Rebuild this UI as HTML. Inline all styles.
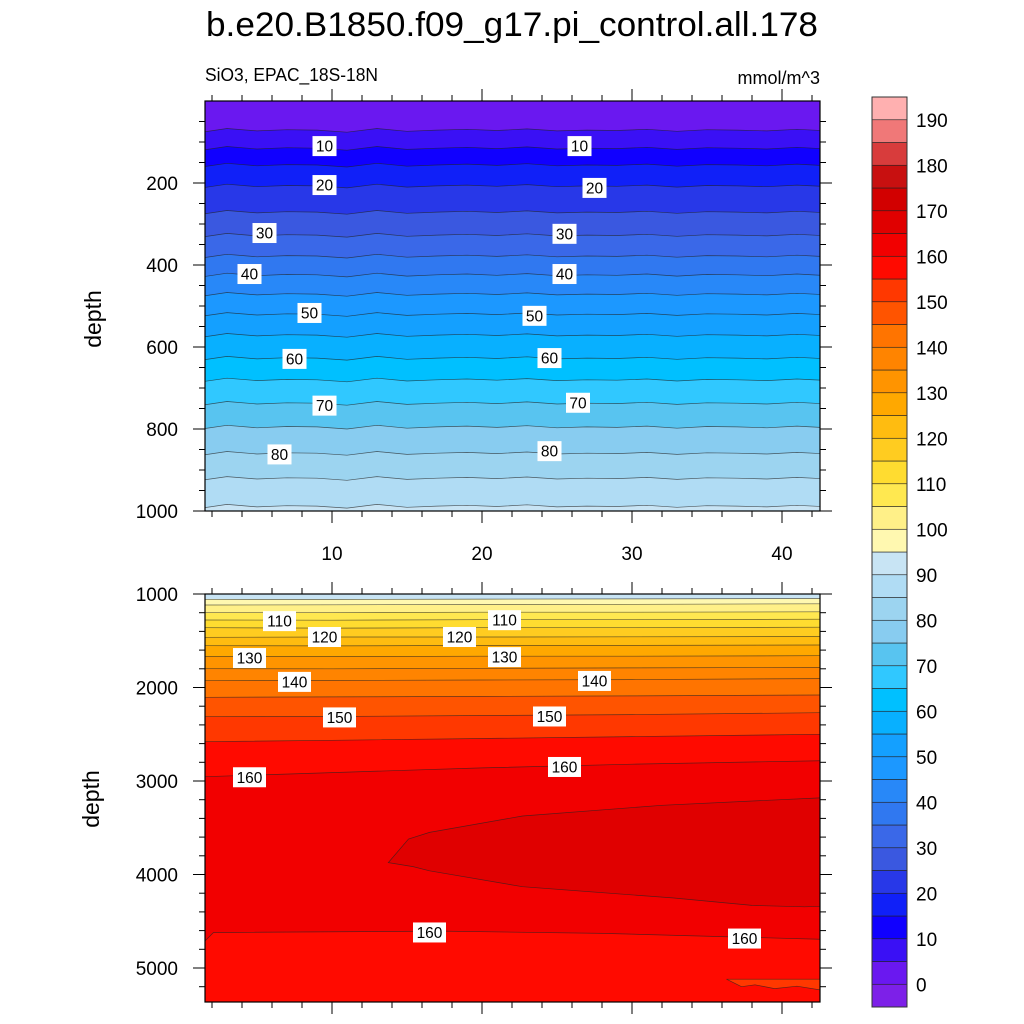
<!DOCTYPE html>
<html><head><meta charset="utf-8"><style>
html,body{margin:0;padding:0;background:#fff;overflow:hidden;width:1024px;height:1024px}
svg{display:block;font-family:"Liberation Sans",sans-serif}
</style></head><body>
<svg id="chart" width="1024" height="1024" viewBox="0 0 1024 1024">
<defs>
<clipPath id="clipTop"><rect x="205" y="101" width="615" height="410"/></clipPath>
<clipPath id="clipBot"><rect x="205" y="594" width="615" height="408"/></clipPath>
</defs>
<text x="512" y="36" font-size="34" text-anchor="middle" textLength="612" lengthAdjust="spacingAndGlyphs">b.e20.B1850.f09_g17.pi_control.all.178</text>
<text x="205" y="81" font-size="18" textLength="173" lengthAdjust="spacingAndGlyphs">SiO3, EPAC_18S-18N</text>
<text x="820" y="84" font-size="18" text-anchor="end">mmol/m^3</text>
<g id="topFill" clip-path="url(#clipTop)"></g>
<g id="botFill" clip-path="url(#clipBot)"></g>
<g id="axes"></g>
<g id="labels"></g>
<g id="cbar"></g>
<text transform="translate(101,319) rotate(-90)" font-size="23" text-anchor="middle">depth</text>
<text transform="translate(99,799) rotate(-90)" font-size="23" text-anchor="middle">depth</text>
</svg>
<script>
const colors=["#7d20e8","#6a18f0","#3a10f5","#1000ff","#1020f8","#2838e8","#3a58e0","#3a68e8","#3078f0","#2888f8","#1c98ff","#14a0ff","#08b0ff","#00c0ff","#30c8ff","#58c4f0","#88ccf0","#9cd4f0","#b0dcf4","#c8e4f4","#fff8b0","#fff088","#ffe850","#ffdc30","#ffcc20","#ffbc10","#ffa800","#ff9400","#ff8400","#ff7400","#ff5400","#ff3800","#ff0a00","#f20000","#e00000","#d20000","#c81010","#d83c3c","#f07878","#ffb0b0"];
const cbarLabels=[0,10,20,30,40,50,60,70,80,90,100,110,120,130,140,150,160,170,180,190];
const levelsTop=[5,10,15,20,25,30,35,40,45,50,55,60,65,70,75,80,85,90];
const depthTop=[71,115,156,207,271,327,378,424,471,520,571,627,680,737,795,859,920,988];
const xWiggle=[1.5,3,5,7,9,11,13,15,17,19,21,23,25,27,29,31,33,35,37,39,41,42.6];
const wiggleTop=[4,-4,2,-1,0,5,-4,3,0,-2,1,-3,2,0,1,-2,3,-1,0,2,-2,1];
const xBot=[1.5,10,20,30,42.6];
const levelsBot=[95,100,105,110,115,120,125,130,135,140,145,150,155,160];
const depthBot=[[1057,1058,1055,1052,1048],[1118,1115,1112,1110,1105],[1200,1200,1195,1195,1190],[1278,1280,1275,1275,1270],[1360,1365,1360,1360,1355],[1463,1460,1460,1458,1455],[1553,1555,1550,1550,1545],[1670,1670,1665,1665,1660],[1799,1800,1795,1790,1785],[1927,1925,1920,1915,1905],[2105,2100,2095,2090,2080],[2312,2310,2300,2290,2270],[2580,2565,2545,2525,2500],[2954,2910,2860,2820,2783]];
const blobX=[13.75,15.1,16.5,22.7,32,42.6,42.6,41.5,38,32.7,22.7,16.5,15.4];
const blobD=[3873,3620,3550,3374,3260,3180,4340,4345,4330,4250,4130,3960,3916];
const low160X=[1.5,2.1,17.3,28.1,42.6];
const low160D=[4717,4620,4605,4630,4693];
const patchX=[36.3,42.6,42.6,41.0,39.5,38.2,37.3];
const patchD=[5120,5120,5235,5195,5220,5180,5200];
const topLabVal=[10,10,20,20,30,30,40,40,50,50,60,60,70,70,80,80];
const topLabX=[9.5,26.5,9.5,27.5,5.5,25.5,4.5,25.5,8.5,23.5,7.5,24.5,9.5,26.4,6.5,24.5];
const topLabD=[110,110,205,212,322,324,422,422,517,524,629,627,743,736,862,854];
const botLabVal=[110,110,120,120,130,130,140,140,150,150,160,160,160,160];
const botLabX=[6.5,21.5,9.5,18.5,4.5,21.5,7.5,27.5,10.5,24.5,4.5,25.5,16.5,37.5];
const botLabD=[1290,1280,1460,1460,1685,1675,1940,1930,2320,2310,2960,2850,4620,4685];
const xTicks=[10,20,30,40];
const yTicksTop=[200,400,600,800,1000];
const yTicksBot=[1000,2000,3000,4000,5000];

const NS="http://www.w3.org/2000/svg";
const X=x=>332+(x-10)*15;
const YT=d=>101+d*0.41;
const YB=d=>594+(d-1000)*0.0935;
function mk(tag,attrs,parent){const e=document.createElementNS(NS,tag);for(const k in attrs)e.setAttribute(k,attrs[k]);parent.appendChild(e);return e;}
const col=L=>colors[L/5+1];

const gT=document.getElementById('topFill');
let r=mk('rect',{x:205,y:101,width:615,height:410,fill:col(0)},gT);


levelsTop.forEach((L,i)=>{
  const pts=xWiggle.map((x,j)=>[X(x),YT(depthTop[i]+wiggleTop[j])]);
  const line=pts.map(p=>p[0].toFixed(1)+','+p[1].toFixed(1)).join(' ');
  const poly=mk('polygon',{points:line+' 830,1020 190,1020',fill:col(L)},gT);
  
  
  const pl=mk('polyline',{points:line,fill:'none',stroke:'#222','stroke-width':0.7,'stroke-opacity':0.7},gT);
  
  
});
const gB=document.getElementById('botFill');
r=mk('rect',{x:205,y:594,width:615,height:408,fill:col(90)},gB);


levelsBot.forEach((L,i)=>{
  const line=xBot.map((x,j)=>X(x).toFixed(1)+','+YB(depthBot[i][j]).toFixed(1)).join(' ');
  const poly=mk('polygon',{points:line+' 830,1010 190,1010',fill:col(L)},gB);
  
  
  const pl=mk('polyline',{points:line,fill:'none',stroke:'#222','stroke-width':0.7,'stroke-opacity':0.7},gB);
  
  
});
{
  const bp=blobX.map((x,i)=>X(x).toFixed(1)+','+YB(blobD[i]).toFixed(1)).join(' ');
  const b=mk('polygon',{points:bp,fill:col(165),stroke:'#222','stroke-width':0.7,'stroke-opacity':0.7},gB);
  
  
  const lp=low160X.map((x,i)=>X(x).toFixed(1)+','+YB(low160D[i]).toFixed(1)).join(' ');
  const l=mk('polygon',{points:lp+' 830,1010 190,1010',fill:col(155)},gB);
  
  
  const ll=mk('polyline',{points:lp,fill:'none',stroke:'#222','stroke-width':0.7,'stroke-opacity':0.7},gB);
  
  
  const pp=patchX.map((x,i)=>X(x).toFixed(1)+','+YB(patchD[i]).toFixed(1)).join(' ');
  const p=mk('polygon',{points:pp,fill:col(150),stroke:'#222','stroke-width':0.7,'stroke-opacity':0.7},gB);
  
  
}
const gA=document.getElementById('axes');
function frame(y0,h,name){const f=mk('rect',{x:205,y:y0,width:615,height:h,fill:'none',stroke:'#000','stroke-width':1.2},gA);

}
frame(101,410,'top-panel-frame');frame(594,408,'bottom-panel-frame');
function tk(x1,y1,x2,y2){const t=mk('line',{x1,y1,x2,y2,stroke:'#000','stroke-width':1},gA);

}
[[101,511],[594,1002]].forEach(([t,b])=>{
  for(let x=2;x<=42;x+=2){const px=X(x);const L=x%10===0?12:6;tk(px,t,px,t-L);tk(px,b,px,b+L);}
});
for(let d=50;d<=1000;d+=50){const py=YT(d);const L=d%200===0?12:6;tk(205,py,205-L,py);tk(820,py,820+L,py);}
for(let d=1000;d<=5350;d+=200){const py=YB(d);const L=d%1000===0?12:6;tk(205,py,205-L,py);tk(820,py,820+L,py);}
xTicks.forEach(v=>{const t=mk('text',{x:X(v),y:560,'font-size':19,'text-anchor':'middle'},gA);t.textContent=v;

});
yTicksTop.forEach(v=>{const t=mk('text',{x:178,y:YT(v)+7,'font-size':19,'text-anchor':'end'},gA);t.textContent=v;

});
yTicksBot.forEach(v=>{const t=mk('text',{x:178,y:YB(v)+7,'font-size':19,'text-anchor':'end'},gA);t.textContent=v;

});
const gL=document.getElementById('labels');
function lab(v,px,py,name){const w=String(v).length*9+6;const rr=mk('rect',{x:px-w/2,y:py-10,width:w,height:20,fill:'#fff'},gL);


const t=mk('text',{x:px,y:py+5.5,'font-size':15.5,'text-anchor':'middle'},gL);t.textContent=v;

}
topLabVal.forEach((v,i)=>lab(v,X(topLabX[i]),YT(topLabD[i]),'top-contour-label-'+v));
botLabVal.forEach((v,i)=>lab(v,X(botLabX[i]),YB(botLabD[i]),'bottom-contour-label-'+v));
const gC=document.getElementById('cbar');
const bh=(1007-97)/colors.length;
colors.forEach((c,i)=>{const b=mk('rect',{x:872,y:1007-(i+1)*bh,width:35,height:bh,fill:c,stroke:'#222','stroke-width':0.6},gC);

});
const cf=mk('rect',{x:872,y:97,width:35,height:910,fill:'none',stroke:'#333','stroke-width':1},gC);


cbarLabels.forEach(v=>{const y=1007-(v/5+1)*bh;const t=mk('text',{x:916,y:y+7,'font-size':19},gC);t.textContent=v;

});
</script>
</body></html>
